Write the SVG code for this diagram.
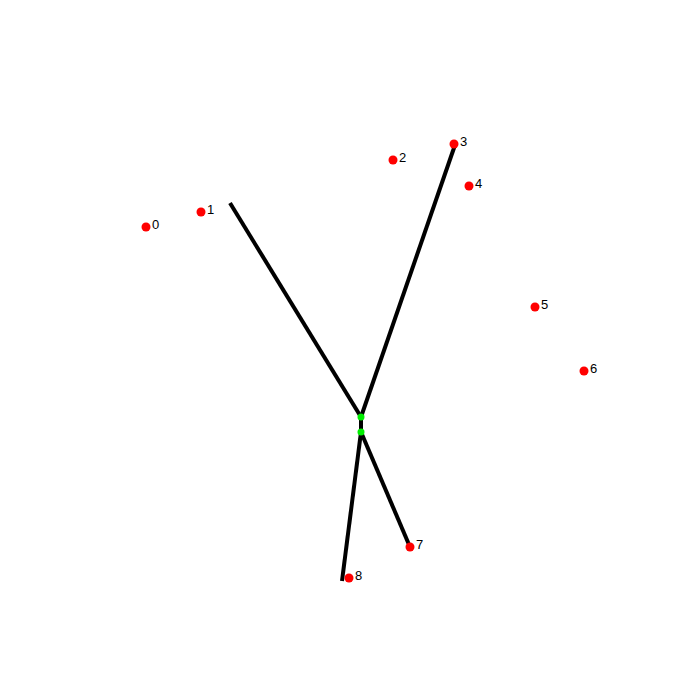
<svg xmlns="http://www.w3.org/2000/svg" width="700" height="700" viewBox="0 0 700 700">
<style>
.p{fill:#ff0000}
.g{fill:#00ee00}
.l{font-family:"Liberation Sans",Arial,sans-serif;font-size:13px;fill:#000}
.c{stroke:#000;stroke-width:4;fill:none;stroke-linecap:butt}
</style>
<rect width="700" height="700" fill="#fff"/>
<g id="connectors">
<line class="c" x1="230" y1="203" x2="361" y2="417"/>
<line class="c" x1="455" y1="145" x2="361" y2="417"/>
<line class="c" x1="361" y1="417" x2="361" y2="432"/>
<line class="c" x1="361" y1="432" x2="410" y2="547"/>
<line class="c" x1="361" y1="432" x2="342" y2="581"/>
</g>
<g id="n0"><circle class="p" cx="146" cy="227" r="4.5"/><text class="l" x="152" y="229">0</text></g>
<g id="n1"><circle class="p" cx="201" cy="212" r="4.5"/><text class="l" x="207" y="214">1</text></g>
<g id="n2"><circle class="p" cx="393" cy="160" r="4.5"/><text class="l" x="399" y="162">2</text></g>
<g id="n3"><circle class="p" cx="454" cy="144" r="4.5"/><text class="l" x="460" y="146">3</text></g>
<g id="n4"><circle class="p" cx="469" cy="186" r="4.5"/><text class="l" x="475" y="188">4</text></g>
<g id="n5"><circle class="p" cx="535" cy="307" r="4.5"/><text class="l" x="541" y="309">5</text></g>
<g id="n6"><circle class="p" cx="584" cy="371" r="4.5"/><text class="l" x="590" y="373">6</text></g>
<g id="n7"><circle class="p" cx="410" cy="547" r="4.5"/><text class="l" x="416" y="549">7</text></g>
<g id="n8"><circle class="p" cx="349" cy="578" r="4.5"/><text class="l" x="355" y="580">8</text></g>
<g id="j1"><circle class="g" cx="361" cy="417" r="3.5"/></g>
<g id="j2"><circle class="g" cx="361" cy="432" r="3.5"/></g>
</svg>
